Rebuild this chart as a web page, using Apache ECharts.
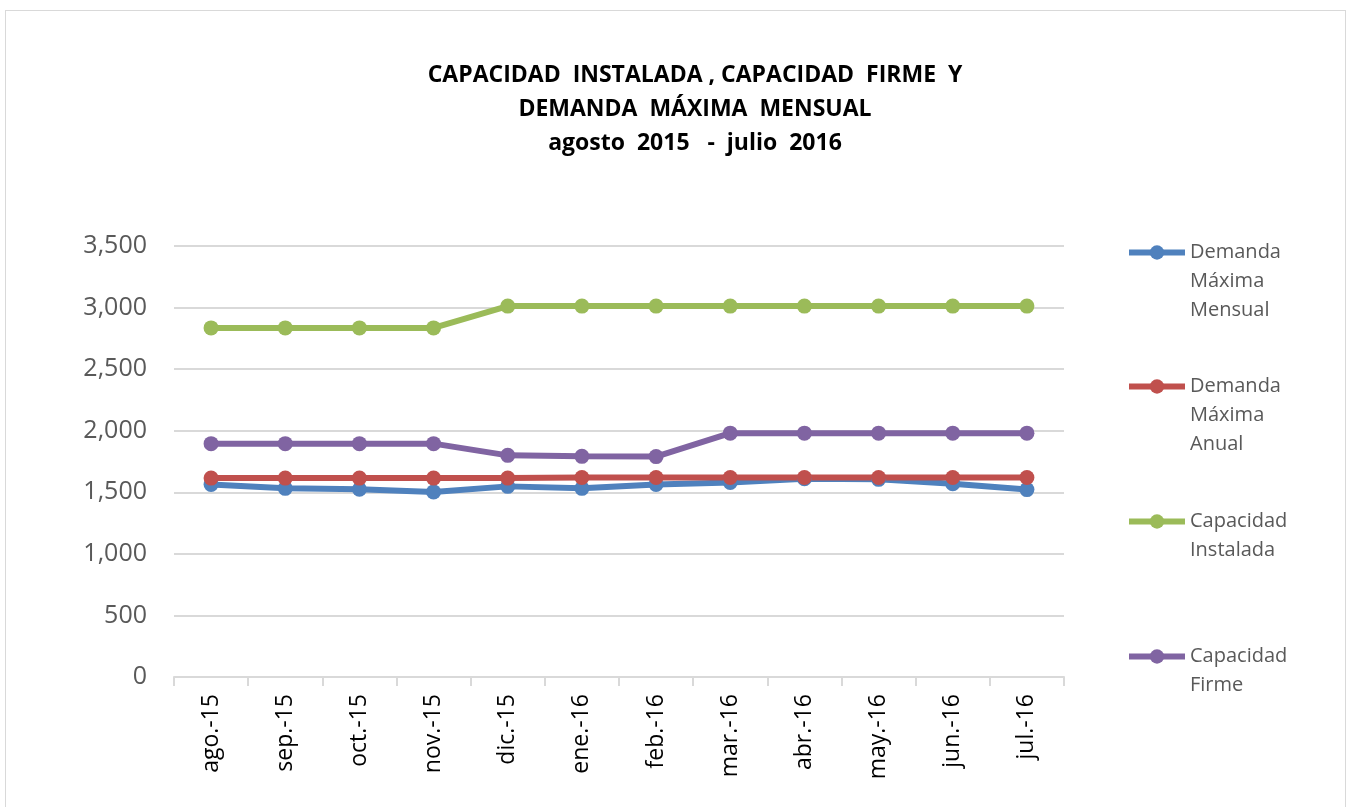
<!DOCTYPE html>
<html lang="es">
<head>
    <meta charset="UTF-8">
    <title>Capacidad instalada</title>
    <script src="https://cdn.jsdelivr.net/npm/echarts@6/dist/echarts.min.js"></script>
    <style>
        html, body { margin: 0; padding: 0; background: #fff; }
        #frame { position: absolute; left: 5px; top: 10px; width: 1341px; height: 800px; border: 1px solid #d9d9d9; box-sizing: border-box; }
        #chart { position: absolute; left: 0; top: 0; width: 1348px; height: 807px; }
    </style>
</head>
<body>
    <div id="frame"></div>
    <div id="chart"></div>
    <script>
        // datos
        const meses = ['ago.-15', 'sep.-15', 'oct.-15', 'nov.-15', 'dic.-15', 'ene.-16',
            'feb.-16', 'mar.-16', 'abr.-16', 'may.-16', 'jun.-16', 'jul.-16'];
        const demandaMensual = [1563, 1532, 1525, 1503, 1548, 1532, 1563, 1580, 1610, 1605, 1570, 1522];
        const demandaAnual = [1615, 1615, 1615, 1615, 1615, 1620, 1620, 1620, 1620, 1620, 1620, 1620];
        const capInstalada = [2835, 2835, 2835, 2835, 3012, 3012, 3012, 3012, 3012, 3012, 3012, 3012];
        const capFirme = [1895, 1895, 1895, 1895, 1800, 1792, 1790, 1980, 1980, 1980, 1980, 1980];
        const yTicks = [0, 500, 1000, 1500, 2000, 2500, 3000, 3500];

        const nombres = ['Demanda Máxima Mensual', 'Demanda Máxima Anual', 'Capacidad Instalada', 'Capacidad Firme'];
        // las líneas en blanco al principio dejan el icono a la altura de la primera línea
        const etiquetas = {
            'Demanda Máxima Mensual': '\n\nDemanda\nMáxima\nMensual',
            'Demanda Máxima Anual': '\n\nDemanda\nMáxima\nAnual',
            'Capacidad Instalada': '\nCapacidad\nInstalada',
            'Capacidad Firme': '\nCapacidad\nFirme'
        };
        const colores = ['#4F81BD', '#C0504D', '#9BBB59', '#8064A2'];
        const valores = [demandaMensual, demandaAnual, capInstalada, capFirme];
        const topLeyenda = [175, 309, 473, 608];

        let myChart = echarts.init(document.getElementById('chart'));

        const leyendas = nombres.map((n, i) => ({
            data: [n],
            orient: 'vertical',
            left: 1121,
            top: topLeyenda[i],
            itemWidth: 56,
            itemHeight: 18,
            itemGap: 4,
            lineStyle: { width: 6 },
            formatter: name => etiquetas[name],
            textStyle: { fontFamily: 'Open Sans', fontSize: 20, color: '#595959', lineHeight: 29 }
        }));

        let option = {
            backgroundColor: 'transparent',
            animation: false,
            title: {
                text: 'CAPACIDAD  INSTALADA , CAPACIDAD  FIRME  Y\nDEMANDA  MÁXIMA  MENSUAL\nagosto  2015   -  julio  2016',
                left: 690,
                textAlign: 'center',
                top: 53,
                textStyle: { fontFamily: 'Open Sans', fontWeight: 'bold', fontSize: 23, color: '#000', lineHeight: 34 }
            },
            legend: leyendas,
            grid: { left: 174, right: 284, top: 246, bottom: 130 },
            xAxis: {
                type: 'category',
                data: meses,
                axisLine: { lineStyle: { color: '#d9d9d9', width: 2 } },
                axisTick: { show: true, length: 9, lineStyle: { color: '#d9d9d9', width: 2 } },
                axisLabel: { rotate: 90, fontFamily: 'Open Sans', fontSize: 23, color: '#000', margin: 17 }
            },
            yAxis: {
                type: 'value',
                min: 0,
                max: yTicks[yTicks.length - 1],
                interval: 500,
                axisLine: { show: false },
                axisTick: { show: false },
                splitLine: { lineStyle: { color: '#d9d9d9', width: 2 } },
                axisLabel: {
                    fontFamily: 'Open Sans', fontSize: 25, color: '#595959', margin: 27,
                    formatter: v => v.toLocaleString('en-US')
                }
            },
            series: nombres.map((n, i) => ({
                name: n,
                type: 'line',
                data: valores[i],
                symbol: 'circle',
                symbolSize: 15,
                color: colores[i],
                lineStyle: { width: 6, color: colores[i] },
                itemStyle: { color: colores[i] }
            }))
        };
        myChart.setOption(option);
    </script>
</body>
</html>
